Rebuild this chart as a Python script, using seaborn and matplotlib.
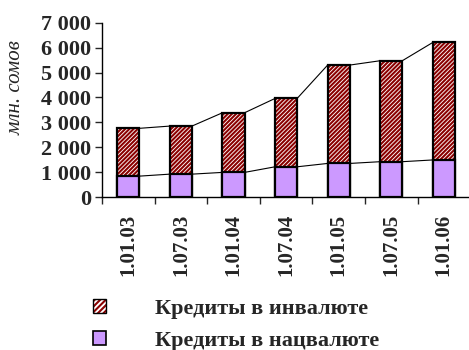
import numpy as np
import pandas as pd
import matplotlib.pyplot as plt
import seaborn as sns
from matplotlib.patches import Patch
from matplotlib.legend_handler import HandlerTuple

sns.set_style('white')
plt.rcParams['font.family'] = ['Liberation Serif', 'DejaVu Serif']
plt.rcParams['hatch.linewidth'] = 1.5

# DATA
dates = ['1.01.03', '1.07.03', '1.01.04', '1.07.04', '1.01.05', '1.07.05', '1.01.06']
nat_cur = [840, 920, 990, 1215, 1350, 1420, 1490]          # кредиты в нацвалюте
for_cur = [1920, 1930, 2395, 2745, 3950, 4055, 4720]       # кредиты в инвалюте
yticks = [0, 1000, 2000, 3000, 4000, 5000, 6000, 7000]
ytick_labels = ['0', '1 000', '2 000', '3 000', '4 000', '5 000', '6 000', '7 000']

df = pd.DataFrame({'date': dates, 'nat': nat_cur, 'for': for_cur})
df['total'] = df['nat'] + df['for']

W = 0.42
HATCH = '////////'
hatch_red = '#8b0000'
lilac = '#cc99ff'

fig = plt.figure(figsize=(4.69, 3.5), dpi=100)
ax = fig.add_axes([0.2175, 0.437, 0.785, 0.498])

# stacked bars: total (hatched) first, national currency on top
sns.barplot(data=df, x='date', y='total', color='white', width=W,
            edgecolor=hatch_red, linewidth=0, hatch=HATCH, ax=ax, zorder=2)
sns.barplot(data=df, x='date', y='total', fill=False, color='black', width=W,
            linewidth=1.6, ax=ax, zorder=3)
sns.barplot(data=df, x='date', y='nat', color=lilac, saturation=1, width=W,
            edgecolor='black', linewidth=1.6, ax=ax, zorder=4)

# series lines between bars
pos = np.arange(len(dates))
for col in ['nat', 'total']:
    v = df[col].values
    for i in range(len(v) - 1):
        ax.plot([pos[i] + W / 2, pos[i + 1] - W / 2], [v[i], v[i + 1]],
                color='black', lw=0.8, zorder=1)

ax.set_xlim(-0.5, len(dates) - 0.5)
ax.set_ylim(0, 7000)
ax.set_yticks(yticks)
ax.set_yticklabels(ytick_labels, fontsize=16, fontweight='bold')
ax.set_xticks(pos)
ax.set_xticklabels(dates, rotation=90, fontsize=15, fontweight='bold')
ax.set_xticks(np.arange(-0.5, len(dates), 1), minor=True)
ax.tick_params(axis='x', which='major', length=0, pad=12)
ax.tick_params(axis='x', which='minor', length=5, width=1, direction='out', bottom=True)
ax.tick_params(axis='y', length=5, width=1, direction='out', left=True, pad=3)
ax.set_xlabel('')
ax.set_ylabel('млн. сомов', fontsize=15, fontstyle='italic')
ax.yaxis.set_label_coords(-0.208, 0.63)

for s in ['top', 'right']:
    ax.spines[s].set_visible(False)
for s in ['left', 'bottom']:
    ax.spines[s].set_color('black')
    ax.spines[s].set_linewidth(1)

# legend
h_for = (Patch(facecolor='white', edgecolor=hatch_red, hatch='//////', lw=0),
         Patch(fill=False, edgecolor='black', lw=1))
h_nat = Patch(facecolor=lilac, edgecolor='black', lw=1.2)
fig.legend([h_for, h_nat], ['Кредиты в инвалюте', 'Кредиты в нацвалюте'],
           handler_map={tuple: HandlerTuple(ndivide=1)},
           loc='lower left', bbox_to_anchor=(0.155, -0.06), frameon=False,
           prop={'weight': 'bold', 'size': 16}, handlelength=0.6, handleheight=0.6,
           handletextpad=2.2, labelspacing=0.55)

plt.savefig('out.png', dpi=100)
